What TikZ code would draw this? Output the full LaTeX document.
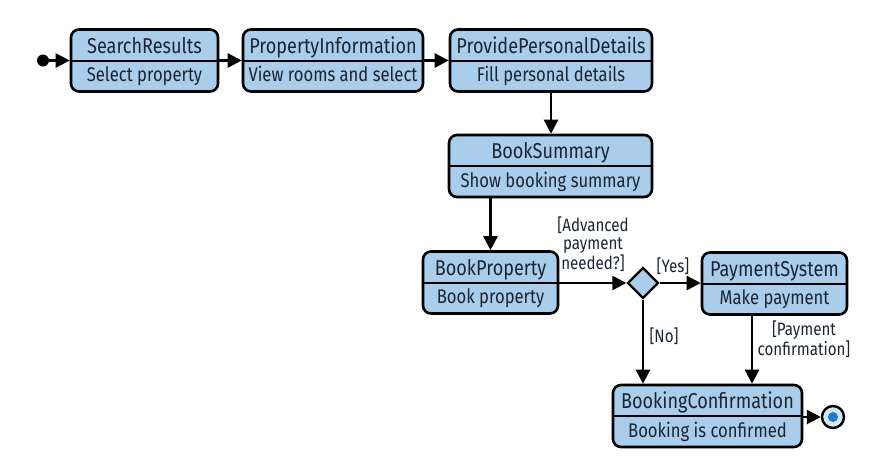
\documentclass[tikz,border=0pt]{standalone}
\usepackage{fontspec}
\setmainfont{Fira Sans}[FakeStretch=0.84]
\usetikzlibrary{arrows.meta,shapes.geometric}
\definecolor{boxfill}{HTML}{A9CDEA}
\definecolor{txt}{HTML}{1B2433}
\definecolor{enddot}{HTML}{1F7BCB}
\tikzset{
  umlbox/.style={draw=black, line width=2.6pt, rounded corners=8pt, fill=boxfill, minimum height=62pt, inner sep=0pt},
  ttl/.style={text=txt, font=\fontsize{21.5}{24}\selectfont, inner sep=0pt, anchor=base},
  sub/.style={text=txt, font=\fontsize{19.8}{24}\selectfont, inner sep=0pt, anchor=base},
  lbl/.style={text=txt, font=\fontsize{18}{18.5}\selectfont, inner sep=0pt, align=center},
  flow/.style={line width=2.6pt, -{Triangle[length=14pt,width=14pt]}},
  decision/.style={diamond, draw=black, line width=2.4pt, fill=boxfill, minimum width=31pt, minimum height=31pt, inner sep=0pt},
}
\newcommand{\umlact}[7]{%
  \node[umlbox, minimum width=#4pt] (#1) at (#2,#3) {};
  \draw[line width=2pt] (#1.west) -- (#1.east);
  \node[ttl] (#1t) at ([yshift=7.5pt]#1.center) {#5};
  \node[sub] (#1s) at ([yshift=-21pt]#1.center) {#6};
}
\begin{document}
\begin{tikzpicture}[x=1pt,y=-1pt]
\useasboundingbox (0,0) rectangle (886,461);
% initial node
\node[circle, fill=black, minimum size=12pt, inner sep=0pt] (init) at (43,60.5) {};
\umlact{sr}{144.5}{60.5}{147}{SearchResults}{Select property}{}
\umlact{pi}{333}{60.5}{180}{PropertyInformation}{View rooms and select}{}
\umlact{ppd}{551}{60.5}{202}{ProvidePersonalDetails}{Fill personal details}{}
\umlact{bs}{550.5}{166}{203}{BookSummary}{Show booking summary}{}
\umlact{bp}{490.5}{282.5}{135}{BookProperty}{Book property}{}
\umlact{ps}{774.5}{283.5}{145}{PaymentSystem}{Make payment}{}
\umlact{bc}{707.5}{416}{189}{BookingConfirmation}{Booking is confirmed}{}
\node[decision] (dec) at (643,283) {};
% final node
\node[circle, draw=black, line width=2.4pt, fill=boxfill!50!white, minimum size=22pt, inner sep=0pt] (fin) at (833,417) {};
\node[circle, fill=enddot, minimum size=10pt, inner sep=0pt] (findot) at (fin.center) {};
% connectors
\draw[flow] (init) -- (sr.west);
\draw[flow] (sr.east) -- (pi.west);
\draw[flow] (pi.east) -- (ppd.west);
\draw[flow] (ppd.south) -- (bs.north -| ppd.south);
\draw[flow] (bs.south -| bp.north) -- (bp.north);
\draw[flow] (bp.east |- dec.west) -- (dec.west);
\draw[flow] (dec.east) -- (ps.west |- dec.east);
\draw[flow] (dec.south) -- (bc.north -| dec.south);
\coordinate (psout) at (752,315);
\draw[flow] (ps.south -| psout) -- (bc.north -| psout);
\draw[flow] (bc.east |- fin.west) -- (fin.west);
% labels
\node[lbl] (l1) at (593,244) {[Advanced\\payment\\needed?]};
\node[lbl] (l2) at (673,266) {[Yes]};
\node[lbl] (l3) at (664,336) {[No]};
\node[lbl] (l4) at (804,339) {[Payment\\confirmation]};
\end{tikzpicture}
\end{document}
